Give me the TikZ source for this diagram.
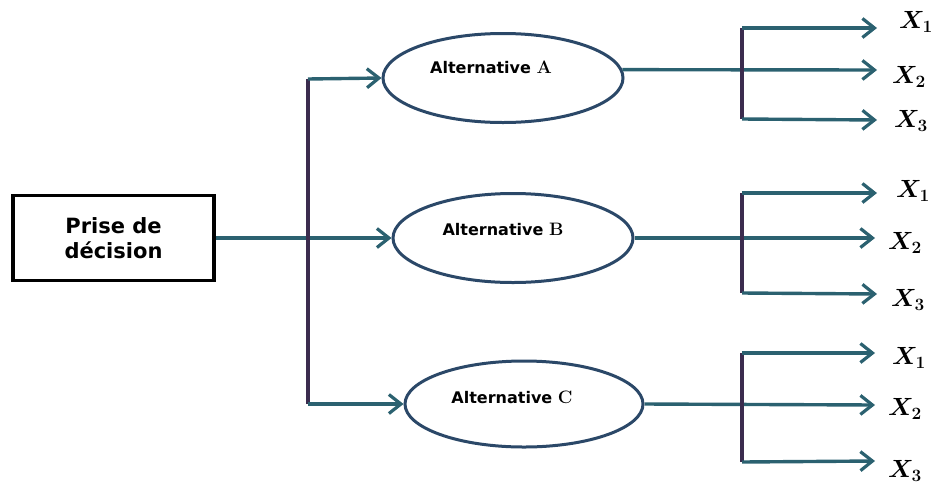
\documentclass[tikz,border=0pt]{standalone}
\usepackage{fontspec}
\setsansfont{DejaVu Sans}
\usetikzlibrary{arrows.meta,shapes.geometric}
\DeclareMathSizes{24}{24}{18}{14}
\definecolor{arrowc}{HTML}{2B6170}
\definecolor{barc}{HTML}{3B2C4E}
\definecolor{ellc}{HTML}{2B4868}
\newcommand{\altletter}[1]{{\rmfamily\bfseries\fontsize{18}{18}\selectfont #1}}
\begin{document}
\begin{tikzpicture}[x=1pt,y=-1pt,
  arr/.style={draw=arrowc,line width=3.4pt,-{Straight Barb[length=12pt,width=19pt,line width=3.2pt]}},
  bar/.style={draw=barc,line width=3.4pt},
  alt/.style={ellipse,draw=ellc,line width=3pt,minimum width=240pt,minimum height=89pt,inner sep=0pt},
  alttxt/.style={font=\sffamily\bfseries\fontsize{16}{18}\selectfont,inner sep=0pt},
  xl/.style={font=\boldmath\fontsize{24}{26}\selectfont,inner sep=0pt},
  decbox/.style={draw=black,line width=3.2pt,minimum width=201pt,minimum height=85pt,align=center,font=\sffamily\bfseries\fontsize{21}{25}\selectfont}
]
\useasboundingbox (0,0) rectangle (936,485);

\node[decbox] (dec) at (113.5,238) {Prise de\\décision};

\node[alt] (eA) at (503,78) {};
\node[alt] (eB) at (513,238) {};
\node[alt,minimum width=238pt,minimum height=86pt] (eC) at (524,404) {};
\node[alttxt] (tA) at (491,67) {Alternative \altletter{A}};
\node[alttxt] (tB) at (503,229) {Alternative \altletter{B}};
\node[alttxt] (tC) at (512,397) {Alternative \altletter{C}};

% main bracket
\coordinate (mt) at (308,79);
\coordinate (mb) at (308,404);
\draw[arr] (dec.east) -- (eB.west);
\draw[bar] (mt) -- (mb);
\draw[arr] (mt) -- (eA.west);
\draw[arr] (mb) -- (eC.west);

% group A
\coordinate (at) at (742,28);
\coordinate (ab) at (742,119);
\coordinate (at2) at (877,28);
\coordinate (am2) at (877,70);
\coordinate (ab2) at (877,120);
\draw[arr] (eA.4) -- (am2);
\draw[bar] (at) -- (ab);
\draw[arr] (at) -- (at2);
\draw[arr] (ab) -- (ab2);
\node[xl] (a1) at (916,22) {$X_1$};
\node[xl] (a2) at (909,77) {$X_2$};
\node[xl] (a3) at (911,121) {$X_3$};

% group B
\coordinate (bt) at (742,193);
\coordinate (bb) at (742,293);
\coordinate (bt2) at (877,193);
\coordinate (bm2) at (875,238);
\coordinate (bb2) at (877,294);
\draw[arr] (eB.east) -- (bm2);
\draw[bar] (bt) -- (bb);
\draw[arr] (bt) -- (bt2);
\draw[arr] (bb) -- (bb2);
\node[xl] (b1) at (913,191) {$X_1$};
\node[xl] (b2) at (905,243) {$X_2$};
\node[xl] (b3) at (908,300) {$X_3$};

% group C
\coordinate (ct) at (742,353);
\coordinate (cb) at (742,462);
\coordinate (ct2) at (875,353);
\coordinate (cm2) at (875,405);
\coordinate (cb2) at (875,461);
\draw[arr] (eC.east) -- (cm2);
\draw[bar] (ct) -- (cb);
\draw[arr] (ct) -- (ct2);
\draw[arr] (cb) -- (cb2);
\node[xl] (c1) at (909,358) {$X_1$};
\node[xl] (c2) at (905,409) {$X_2$};
\node[xl] (c3) at (905,471) {$X_3$};
\end{tikzpicture}
\end{document}
